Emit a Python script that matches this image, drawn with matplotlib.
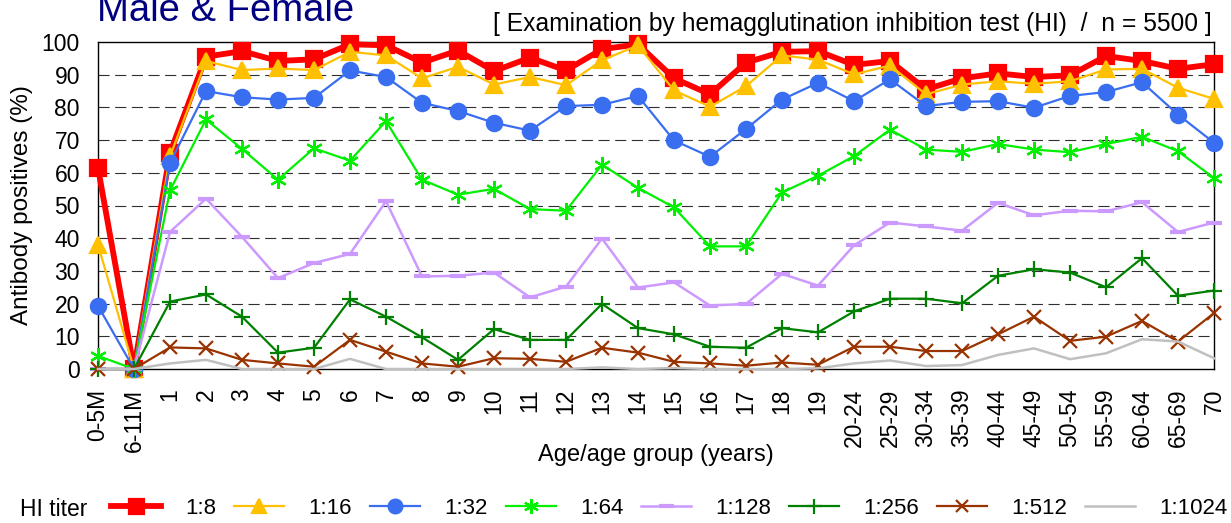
import matplotlib.pyplot as plt
from matplotlib.lines import Line2D

plt.rcParams['font.family'] = ['Liberation Sans', 'DejaVu Sans']

age_groups = ["0-5M", "6-11M", "1", "2", "3", "4", "5", "6", "7", "8", "9", "10",
              "11", "12", "13", "14", "15", "16", "17", "18", "19",
              "20-24", "25-29", "30-34", "35-39", "40-44", "45-49", "50-54",
              "55-59", "60-64", "65-69", "70"]

titer_1_8 = [61.5, 0, 66.1, 95.5, 97.2, 94.2, 94.7, 99.3, 99.0, 93.7, 97.4, 91.1,
             95.2, 91.3, 97.8, 99.3, 88.9, 84.0, 93.7, 97.0, 97.2,
             93.0, 94.2, 85.5, 88.9, 90.4, 89.3, 89.8, 95.7, 94.2, 91.8, 93.2]
titer_1_16 = [38.0, 0, 65.0, 94.2, 91.4, 91.9, 91.4, 97.0, 95.9, 88.9, 92.4, 87.0,
              89.3, 86.8, 94.4, 99.0, 85.2, 80.2, 86.5, 95.9, 94.6,
              90.1, 92.8, 84.0, 87.0, 88.0, 87.2, 88.0, 91.6, 91.8, 86.0, 82.6]
titer_1_32 = [19.3, 0, 63.0, 85.0, 83.1, 82.4, 82.9, 91.3, 89.3, 81.4, 78.9, 75.3,
              72.9, 80.4, 80.8, 83.5, 69.9, 64.9, 73.4, 82.4, 87.5,
              81.9, 88.6, 80.4, 81.7, 81.9, 79.9, 83.5, 84.7, 87.7, 77.8, 69.2]
titer_1_64 = [4.0, 0, 54.6, 76.3, 67.3, 57.9, 67.5, 63.7, 75.8, 57.9, 53.3, 55.1,
              48.9, 48.4, 62.5, 55.4, 49.4, 37.5, 37.5, 54.0, 59.1,
              65.1, 73.2, 67.1, 66.4, 68.8, 67.1, 66.3, 68.8, 71.0, 66.6, 58.4]
titer_1_128 = [0, 0, 41.9, 52.1, 40.4, 27.8, 32.4, 35.2, 51.3, 28.3, 28.5, 29.5,
               21.9, 25.2, 39.9, 24.9, 26.5, 19.4, 19.9, 29.1, 25.5,
               37.8, 44.8, 43.6, 42.3, 50.8, 47.0, 48.4, 48.2, 51.0, 41.9, 44.8]
titer_1_256 = [0, 0, 20.6, 22.8, 16.0, 5.0, 6.5, 21.3, 16.0, 9.7, 2.8, 12.2,
               8.9, 8.9, 19.9, 12.5, 10.6, 6.8, 6.5, 12.5, 11.2,
               17.6, 21.5, 21.5, 20.1, 28.5, 30.5, 29.5, 25.0, 33.9, 22.4, 24.0]
titer_1_512 = [0, 0, 6.6, 6.3, 2.8, 1.7, 0.7, 8.9, 5.3, 1.7, 0.7, 3.3,
               3.1, 2.2, 6.5, 5.0, 2.2, 1.7, 1.0, 2.0, 1.3,
               6.8, 6.8, 5.5, 5.5, 10.6, 16.0, 8.6, 9.9, 14.7, 8.4, 17.1]
titer_1_1024 = [0, 0, 1.7, 2.8, 0, 0, 0, 3.1, 0, 0, 0, 0,
                0, 0, 0.5, 0, 0.3, 0, 0, 0, 0.2,
                1.7, 2.6, 0.9, 1.2, 4.3, 6.3, 3.0, 4.8, 9.1, 8.4, 3.3]

series_labels = ["1:8", "1:16", "1:32", "1:64", "1:128", "1:256", "1:512", "1:1024"]


def main():
    series = [titer_1_8, titer_1_16, titer_1_32, titer_1_64,
              titer_1_128, titer_1_256, titer_1_512, titer_1_1024]
    # color, marker, marker size, line width
    styles = [
        ("#FF0000", "s", 12, 4.2),
        ("#FFC000", "^", 11, 1.6),
        ("#3A6EF0", "o", 11, 1.6),
        ("#00F000", (6, 2, 0), 12, 1.6),
        ("#CC99FF", "_", 12, 1.8),
        ("#008000", "+", 12, 1.6),
        ("#993300", "x", 10, 1.6),
        ("#C0C0C0", None, 0, 1.8),
    ]

    fig = plt.figure(figsize=(12.31, 5.23), dpi=100)
    ax = fig.add_axes([98 / 1231, 1 - 369 / 523, 1116 / 1231, 327 / 523])

    x = list(range(len(age_groups)))
    handles = []
    for i, (vals, lab, (col, mk, ms, lw)) in enumerate(zip(series, series_labels, styles)):
        mew = 3 if mk == "_" else 1.6
        ax.plot(x, vals, color=col, marker=mk, markersize=ms, linewidth=lw,
                markeredgewidth=mew, markeredgecolor=col, clip_on=False, zorder=3 + i)
        handles.append(Line2D([], [], color=col, marker=mk, markersize=ms * 0.9,
                              linewidth=lw, markeredgewidth=mew, label=lab))

    ax.set_xlim(0, len(age_groups) - 1)
    ax.set_ylim(0, 100)
    ax.set_yticks(range(0, 101, 10))
    ax.set_xticks(x)
    ax.set_xticklabels(age_groups, rotation=90, fontsize=16.5)
    ax.tick_params(axis="y", labelsize=16.5, length=0, pad=13)
    ax.tick_params(axis="x", length=0, pad=14)
    for yv in range(10, 100, 10):
        ax.axhline(yv, color="#303030", linestyle=(0, (10, 5)), linewidth=0.8,
                   zorder=1)
    for sp in ax.spines.values():
        sp.set_linewidth(1.0)

    ax.set_ylabel("Antibody positives (%)", fontsize=17.5)
    ax.yaxis.set_label_coords(-0.058, 0.5)
    ax.set_xlabel("Age/age group (years)", fontsize=17)
    ax.xaxis.set_label_coords(0.5, -0.229)

    # title sits partly above the top edge, as in the source image
    fig.text(97 / 1231, 1 - 21 / 523, "Male & Female", fontsize=27.5,
             color="#000080", va="baseline", ha="left")
    fig.text(1212 / 1231, 1 - 31 / 523,
             "[ Examination by hemagglutination inhibition test (HI)  /  n = 5500 ]",
             fontsize=17.7, ha="right", va="baseline")

    fig.text(20 / 1231, 1 - 516 / 523, "HI titer", fontsize=16.5, va="baseline")
    fig.legend(handles=handles, loc="center left", ncol=8, frameon=False,
               bbox_to_anchor=(111 / 1231, 1 - 508 / 523), fontsize=16,
               borderpad=0, borderaxespad=0,
               handlelength=2.25, handletextpad=1.1, columnspacing=0.8)

    fig.savefig("out.png", dpi=100)


if __name__ == "__main__":
    main()
